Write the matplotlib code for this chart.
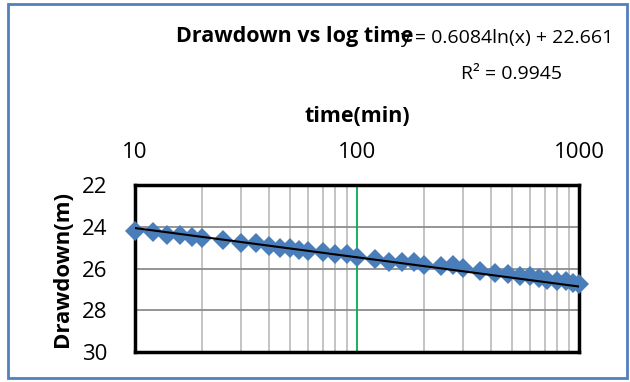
import numpy as np
import matplotlib.pyplot as plt
from matplotlib.patches import Rectangle

plt.rcParams['font.family'] = ['Open Sans', 'DejaVu Sans']

# pumping test data
time_min = [10, 12, 14, 16, 18, 20, 25, 30, 35, 40, 45, 50, 55, 60, 70, 80, 90, 100,
            120, 140, 160, 180, 200, 240, 270, 300, 360, 420, 480, 540, 600, 660,
            720, 800, 870, 940, 1000]
drawdown_m = [24.18, 24.25, 24.4, 24.4, 24.48, 24.55, 24.63, 24.76, 24.8, 24.92, 25.03, 25.03,
              25.1, 25.16, 25.19, 25.32, 25.32, 25.45,
              25.55, 25.67, 25.71, 25.67, 25.82, 25.87, 25.82, 25.98, 26.14, 26.22, 26.27,
              26.35, 26.38, 26.46, 26.54, 26.59, 26.62, 26.7, 26.74]
# excel trendline
slope, intercept, r2 = 0.6084, 22.661, 0.9945

x_ticks = [10, 100, 1000]
y_ticks = [22, 24, 26, 28, 30]

fig = plt.figure(figsize=(6.3, 3.82), dpi=100)
ax = fig.add_axes([0.2143, 0.0785, 0.7047, 0.4372])

ax.set_xscale('log')
ax.set_xlim(10, 1000)
ax.set_ylim(30, 22)
ax.set_xticks(x_ticks)
ax.set_xticklabels([str(t) for t in x_ticks])
ax.set_yticks(y_ticks)
ax.xaxis.tick_top()
ax.tick_params(axis='both', which='both', length=0, labelsize=16)
ax.tick_params(axis='x', pad=16)
ax.tick_params(axis='y', pad=20)

ax.grid(True, which='major', axis='y', color='#8c8c8c', lw=1.3)
ax.grid(True, which='both', axis='x', color='#bfbfbf', lw=1.3)
ax.axvline(100, color='#00b050', lw=1.2, zorder=2)
ax.set_axisbelow(True)

for s in ax.spines.values():
    s.set_linewidth(2.5)
    s.set_color('black')

ax.plot(time_min, drawdown_m, 'D', color='#4a7ebb', markersize=10, markeredgewidth=0,
        clip_on=False, zorder=3)
xt = np.array([10, 1000])
xs = np.logspace(np.log10(xt[0]), np.log10(xt[1]), 50)
ax.plot(xs, slope * np.log(xs) + intercept, color='black', lw=1.5, zorder=4)

ax.xaxis.set_label_position('top')
ax.set_xlabel('time(min)', fontsize=15.5, fontweight='bold', labelpad=14)
ax.set_ylabel('Drawdown(m)', fontsize=16, fontweight='bold', labelpad=6)

fig.text(0.468, 0.905, 'Drawdown vs log time', fontsize=15.5, fontweight='bold',
         ha='center', va='center')
fig.text(0.974, 0.900, 'y = %.4fln(x) + %.3f' % (slope, intercept), fontsize=14,
         ha='right', va='center')
fig.text(0.892, 0.805, 'R² = %.4f' % r2, fontsize=14, ha='right', va='center')

fig.add_artist(Rectangle((0.013, 0.01), 0.982, 0.98, transform=fig.transFigure,
                         fill=False, edgecolor='#4f81bd', lw=2))

fig.savefig('out.png', dpi=100)
